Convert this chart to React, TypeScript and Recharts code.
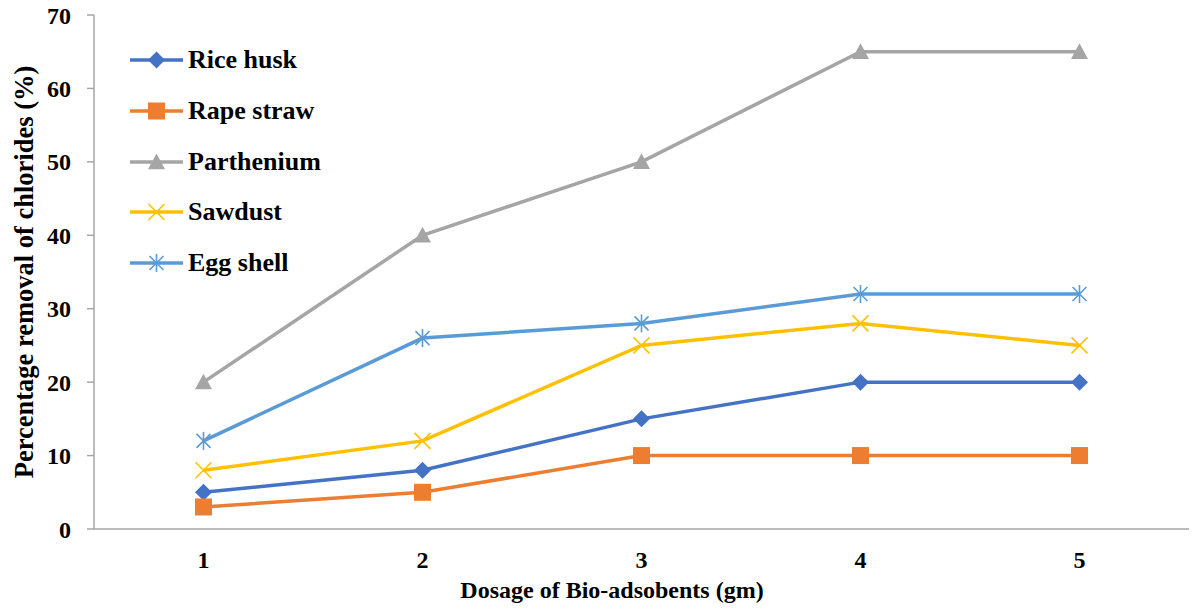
import React from "react";
import { LineChart, Line, XAxis, YAxis, Legend } from "recharts";

const categories = ["1", "2", "3", "4", "5"];
const riceHusk = [5, 8, 15, 20, 20];
const rapeStraw = [3, 5, 10, 10, 10];
const parthenium = [20, 40, 50, 65, 65];
const sawdust = [8, 12, 25, 28, 25];
const eggShell = [12, 26, 28, 32, 32];
const yTicks = [0, 10, 20, 30, 40, 50, 60, 70];

const data = categories.map((c, i) => ({
  dose: c,
  rice: riceHusk[i],
  rape: rapeStraw[i],
  parth: parthenium[i],
  saw: sawdust[i],
  egg: eggShell[i],
}));

const FONT = "'Liberation Serif', 'Times New Roman', serif";

type Shape = "diamond" | "square" | "triangle" | "x" | "star";

const series: { key: string; name: string; color: string; shape: Shape }[] = [
  { key: "rice", name: "Rice husk", color: "#4472C4", shape: "diamond" },
  { key: "rape", name: "Rape straw", color: "#ED7D31", shape: "square" },
  { key: "parth", name: "Parthenium", color: "#A5A5A5", shape: "triangle" },
  { key: "saw", name: "Sawdust", color: "#FFC000", shape: "x" },
  { key: "egg", name: "Egg shell", color: "#5B9BD5", shape: "star" },
];

function Marker({ cx, cy, color, shape }: { cx: number; cy: number; color: string; shape: Shape }) {
  if (cx == null || cy == null) return null;
  const r = 8.5;
  switch (shape) {
    case "diamond":
      return (
        <polygon
          points={`${cx},${cy - r} ${cx + r},${cy} ${cx},${cy + r} ${cx - r},${cy}`}
          fill={color}
        />
      );
    case "square":
      return <rect x={cx - r} y={cy - r} width={2 * r} height={2 * r} fill={color} />;
    case "triangle":
      return (
        <polygon
          points={`${cx},${cy - r} ${cx + r},${cy + r * 0.85} ${cx - r},${cy + r * 0.85}`}
          fill={color}
        />
      );
    case "x":
      return (
        <g stroke={color} strokeWidth={1.6}>
          <line x1={cx - 8} y1={cy - 8} x2={cx + 8} y2={cy + 8} />
          <line x1={cx - 8} y1={cy + 8} x2={cx + 8} y2={cy - 8} />
        </g>
      );
    case "star":
      return (
        <g stroke={color} strokeWidth={1.6}>
          <line x1={cx - 7} y1={cy - 7} x2={cx + 7} y2={cy + 7} />
          <line x1={cx - 7} y1={cy + 7} x2={cx + 7} y2={cy - 7} />
          <line x1={cx} y1={cy - 9} x2={cx} y2={cy + 9} />
        </g>
      );
  }
  return null;
}

function LegendContent() {
  return (
    <div style={{ display: "flex", flexDirection: "column" }}>
      {series.map((s) => (
        <div key={s.key} style={{ display: "flex", alignItems: "center", height: 50.7 }}>
          <svg width={58} height={24} style={{ overflow: "visible" }}>
            <line x1={2} y1={12} x2={55} y2={12} stroke={s.color} strokeWidth={3.5} />
            <Marker cx={28.5} cy={12} color={s.color} shape={s.shape} />
          </svg>
          <span
            style={{
              fontFamily: FONT,
              fontWeight: "bold",
              fontSize: 26,
              color: "#000",
              marginLeft: 2,
              lineHeight: "24px",
              whiteSpace: "nowrap",
            }}
          >
            {s.name}
          </span>
        </div>
      ))}
    </div>
  );
}

export default function App() {
  return (
    <div style={{ position: "absolute", left: 0, top: 0, width: 1192, height: 615, background: "#fff" }}>
      <LineChart
        width={1192}
        height={615}
        data={data}
        margin={{ top: 15, right: 3, bottom: 0, left: 0 }}
      >
        <XAxis
          dataKey="dose"
          height={86}
          padding={{ left: 109.5, right: 109.5 }}
          axisLine={{ stroke: "#A6A6A6", strokeWidth: 1.5 }}
          tickLine={false}
          tickMargin={16}
          tick={{ fontFamily: FONT, fontWeight: "bold", fontSize: 24, fill: "#000" }}
          label={{
            content: (props: any) => {
              const vb = props.viewBox || {};
              return (
                <text
                  x={612}
                  y={(vb.y ?? 529) + 69}
                  textAnchor="middle"
                  fontFamily={FONT}
                  fontWeight="bold"
                  fontSize={24}
                  fill="#000"
                >
                  Dosage of Bio-adsobents (gm)
                </text>
              );
            },
          }}
        />
        <YAxis
          width={94}
          domain={[0, 70]}
          ticks={yTicks}
          interval={0}
          axisLine={{ stroke: "#A6A6A6", strokeWidth: 1.5 }}
          tickLine={{ stroke: "#A6A6A6", strokeWidth: 1.5 }}
          tickSize={7}
          tickMargin={16}
          tick={{ fontFamily: FONT, fontWeight: "bold", fontSize: 24, fill: "#000" }}
          label={{
            content: (props: any) => {
              const vb = props.viewBox || {};
              const cy = (vb.y ?? 15) + (vb.height ?? 514) / 2;
              return (
                <text
                  x={24}
                  y={cy}
                  transform={`rotate(-90, 24, ${cy})`}
                  textAnchor="middle"
                  dominantBaseline="central"
                  fontFamily={FONT}
                  fontWeight="bold"
                  fontSize={26.5}
                  fill="#000"
                >
                  Percentage removal of chlorides (%)
                </text>
              );
            },
          }}
        />
        <Legend
          layout="vertical"
          verticalAlign="middle"
          align="center"
          content={<LegendContent />}
          wrapperStyle={{ left: 128, top: 35, width: 250, height: 260 }}
        />
        {series.map((s) => (
          <Line
            key={s.key}
            dataKey={s.key}
            name={s.name}
            stroke={s.color}
            strokeWidth={3.5}
            isAnimationActive={false}
            dot={(p: any) => <Marker key={`${s.key}-${p.index}`} cx={p.cx} cy={p.cy} color={s.color} shape={s.shape} />}
            activeDot={false}
          />
        ))}
      </LineChart>
    </div>
  );
}
